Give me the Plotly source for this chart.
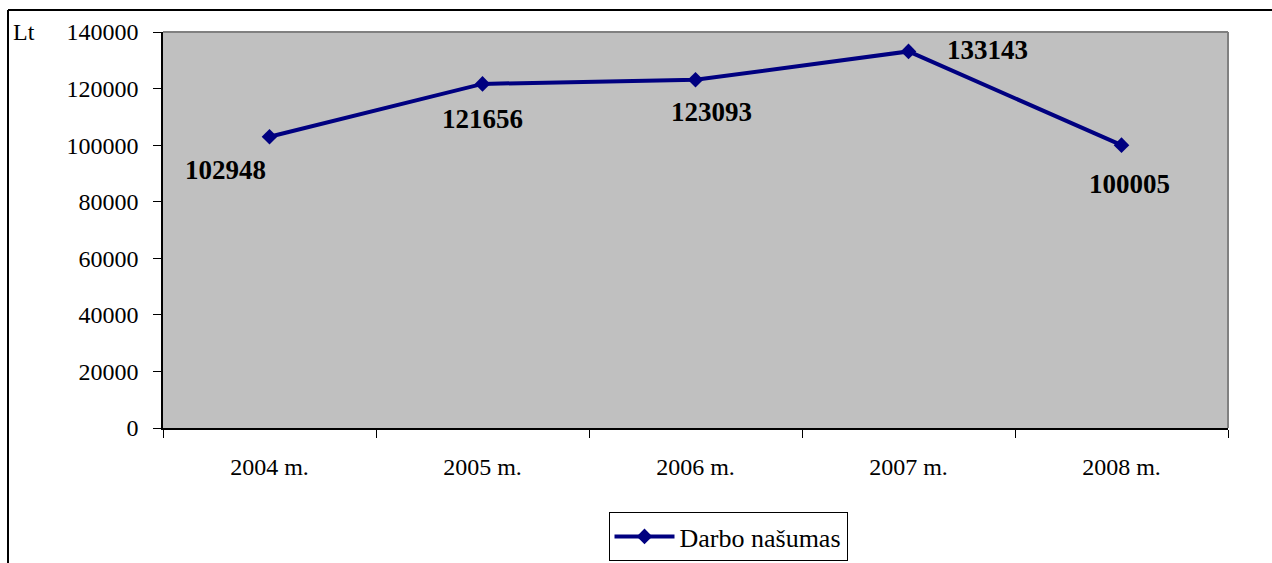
import plotly.graph_objects as go

years = ["2004 m.", "2005 m.", "2006 m.", "2007 m.", "2008 m."]
values = [102948, 121656, 123093, 133143, 100005]
y_ticks = [0, 20000, 40000, 60000, 80000, 100000, 120000, 140000]
series_name = "Darbo našumas"
unit_label = "Lt"

# label offsets (pixels) relative to each point
label_dx = [-44, 0, 16, 79, 8]
label_dy = [-33, -35, -32, 1, -39]

W, H = 1272, 563
L, R, T, B = 163, 44, 32, 135
pw, ph = W - L - R, H - T - B

font_family = "Liberation Serif, Times New Roman, serif"
navy = "#000080"

fig = go.Figure()
fig.add_trace(go.Scatter(
    x=years, y=values, mode="lines+markers", name=series_name,
    line=dict(color=navy, width=4),
    marker=dict(symbol="diamond", size=12, color=navy),
))

for x, v, dx, dy in zip(years, values, label_dx, label_dy):
    fig.add_annotation(x=x, y=v, text=f"<b>{v}</b>", showarrow=False,
                       xshift=dx, yshift=dy,
                       font=dict(family=font_family, size=27, color="black"))

fig.add_annotation(xref="paper", yref="paper", x=(11 - L) / pw, y=1,
                   xanchor="left", yanchor="middle", text=unit_label,
                   showarrow=False, font=dict(family=font_family, size=24, color="black"))

# plot-area top/right gray border
fig.add_shape(type="line", xref="paper", yref="paper", x0=0, x1=1, y0=1, y1=1,
              line=dict(color="#808080", width=2))
fig.add_shape(type="line", xref="paper", yref="paper", x0=1, x1=1, y0=0, y1=1,
              line=dict(color="#808080", width=2))
# outer chart frame (left and top)
fx = (8 - L) / pw
fy = 1 + (T - 10) / ph
fig.add_shape(type="line", xref="paper", yref="paper", x0=fx, x1=fx, y0=fy, y1=-(B + 5) / ph,
              line=dict(color="black", width=2))
fig.add_shape(type="line", xref="paper", yref="paper", x0=fx, x1=(W + 5 - L) / pw, y0=fy, y1=fy,
              line=dict(color="black", width=2))

fig.update_layout(
    width=W, height=H,
    margin=dict(l=L, r=R, t=T, b=B, autoexpand=False),
    paper_bgcolor="white", plot_bgcolor="#C0C0C0",
    font=dict(family=font_family, size=24, color="black"),
    showlegend=True,
    legend=dict(orientation="h", x=(728 - L) / pw, xanchor="center",
                y=-(561 - 428) / ph, yanchor="bottom", itemwidth=60,
                bordercolor="black", borderwidth=1, bgcolor="white",
                font=dict(family=font_family, size=26, color="black")),
    xaxis=dict(type="category", range=[-0.5, len(years) - 0.5],
               showgrid=False, zeroline=False,
               showline=True, linecolor="black", linewidth=1.5,
               ticks="outside", ticklen=8, tickcolor="black", tickson="boundaries",
               ticklabelstandoff=16,
               tickfont=dict(family=font_family, size=24)),
    yaxis=dict(range=[0, 140000], tickvals=y_ticks, tickformat="d",
               showgrid=False, zeroline=False,
               showline=True, linecolor="black", linewidth=1.5,
               ticks="outside", ticklen=8, tickcolor="black",
               ticklabelstandoff=10,
               tickfont=dict(family=font_family, size=24)),
)

fig.write_html("out.html", config={"displayModeBar": False},
               post_script="document.body.style.margin='0';")
